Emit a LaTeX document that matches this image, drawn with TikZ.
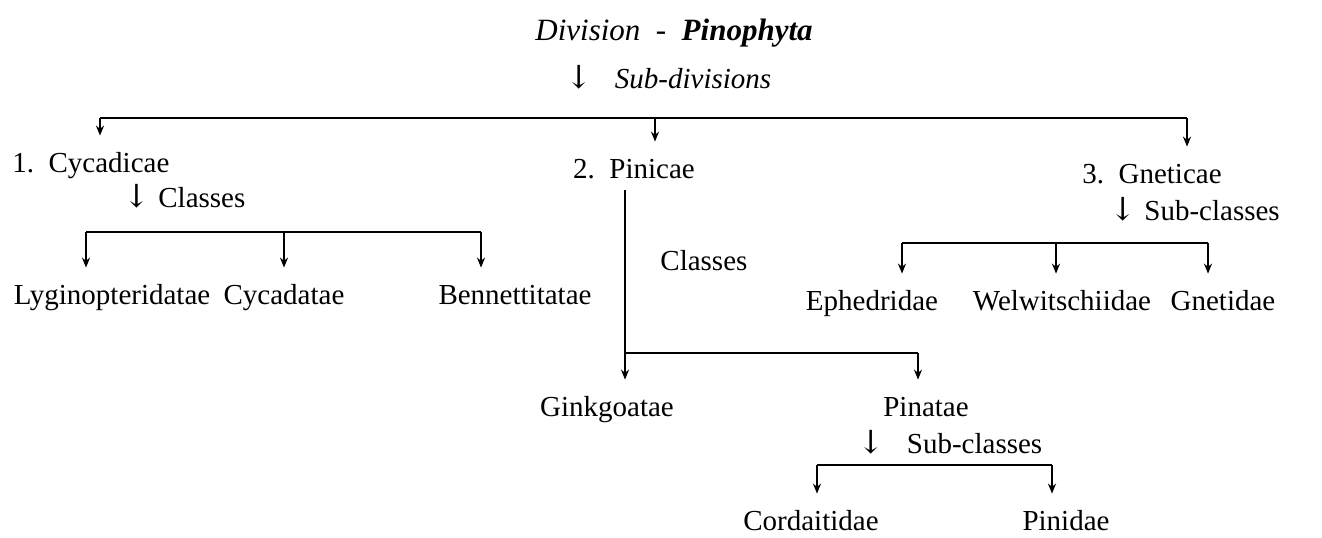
\documentclass[tikz,border=0pt]{standalone}
\usepackage{fontspec}
\setmainfont{Liberation Serif}
\newfontfamily\arrowfont{DejaVu Serif}
\newcommand\dnarrow{\makebox[0.5em]{\arrowfont\fontsize{16}{18}\selectfont ↓}}
\usetikzlibrary{arrows.meta}
\tikzset{
  lbl/.style ={inner sep=0pt, anchor=base, text height=10pt, text depth=3pt,
               font=\fontsize{14.5}{17}\selectfont},
  head/.style={inner sep=0pt, anchor=base, font=\fontsize{15.5}{18}\selectfont},
  bus/.style ={line width=0.9pt},
  ar/.style  ={-{Stealth[length=5pt,width=4pt]}, line width=0.8pt, shorten >=8pt}
}
\begin{document}
\begin{tikzpicture}[x=0.5pt,y=-0.5pt]
\useasboundingbox (0,0) rectangle (1322,537);
\node[head] (div) at (674,40) {\textit{Division}\enspace-\enspace\textbf{\textit{Pinophyta}}};
\node[lbl, anchor=base west] (subdiv) at (571,88) {\dnarrow\quad\textit{Sub-divisions}};

% sub-divisions
\coordinate (sd1) at (100,118);
\coordinate (sd2) at (655,118);
\coordinate (sd3) at (1187,118);
\node[lbl, anchor=base west] (cyc) at (12,172) {1.\enspace Cycadicae};
\node[lbl] (pin) at (634,178) {2.\enspace Pinicae};
\node[lbl] (gne) at (1152,183) {3.\enspace Gneticae};
\draw[bus] (sd1) -- (sd3);
\draw[ar] (sd1) -- (sd1 |- cyc.north);
\draw[ar] (sd2) -- (sd2 |- pin.north);
\draw[ar] (sd3) -- (sd3 |- gne.north);

% Cycadicae
\node[lbl, anchor=base west] (cycl) at (129,207) {\dnarrow\enspace Classes};
\coordinate (cb1) at (86,232);
\coordinate (cb2) at (284,232);
\coordinate (cb3) at (481,232);
\node[lbl] (lyg) at (112,304) {Lyginopteridatae};
\node[lbl] (cyca) at (284,304) {Cycadatae};
\node[lbl] (ben) at (515,304) {Bennettitatae};
\draw[bus] (cb1) -- (cb3);
\draw[ar] (cb1) -- (cb1 |- lyg.north);
\draw[ar] (cb2) -- (cb2 |- cyca.north);
\draw[ar] (cb3) -- (cb3 |- ben.north);

% Pinicae
\coordinate (pb1) at (625,353);
\coordinate (pb2) at (918,353);
\node[lbl, anchor=base west] (pincl) at (660,270) {Classes};
\node[lbl] (gin) at (607,416) {Ginkgoatae};
\node[lbl] (pina) at (926,416) {Pinatae};
\draw[bus, shorten <=3pt] (pin.south -| pb1) -- (pb1) -- (pb2);
\draw[ar] (pb1) -- (pb1 |- gin.north);
\draw[ar] (pb2) -- (pb2 |- pina.north);

\node[lbl, anchor=base west] (pinsc) at (863,453) {\dnarrow\quad Sub-classes};
\coordinate (ab1) at (817,465);
\coordinate (ab2) at (1052,465);
\node[lbl] (cor) at (811,530) {Cordaitidae};
\node[lbl] (pini) at (1066,530) {Pinidae};
\draw[bus] (ab1) -- (ab2);
\draw[ar] (ab1) -- (ab1 |- cor.north);
\draw[ar] (ab2) -- (ab2 |- pini.north);

% Gneticae
\node[lbl, anchor=base west] (gnesc) at (1115,220) {\dnarrow\enspace Sub-classes};
\coordinate (gb1) at (902,243);
\coordinate (gb2) at (1056,243);
\coordinate (gb3) at (1208,243);
\node[lbl] (eph) at (872,310) {Ephedridae};
\node[lbl] (wel) at (1062,310) {Welwitschiidae};
\node[lbl] (gnet) at (1223,310) {Gnetidae};
\draw[bus] (gb1) -- (gb3);
\draw[ar] (gb1) -- (gb1 |- eph.north);
\draw[ar] (gb2) -- (gb2 |- wel.north);
\draw[ar] (gb3) -- (gb3 |- gnet.north);
\end{tikzpicture}
\end{document}
